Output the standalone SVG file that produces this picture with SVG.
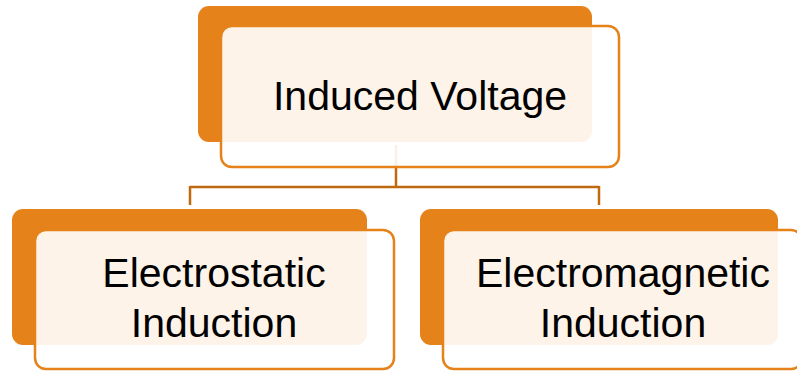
<svg xmlns="http://www.w3.org/2000/svg" width="797" height="371" viewBox="0 0 797 371">
<style>
.back{fill:#E5821A}
.front{fill:#FFFFFF;fill-opacity:0.9;stroke:#E5821A;stroke-width:2.5}
.lbl{font-family:"Liberation Sans",Arial,sans-serif;font-size:41px;fill:#000;text-anchor:middle}
.conn{fill:none;stroke:#C0690F;stroke-width:2.5}
</style>
<rect width="797" height="371" fill="#FFFFFF"/>
<g id="connectors">
<path class="conn" d="M396,145 V187 M190,187 H599 M190,186 V205 M599,186 V205"/>
</g>
<g id="node-induced-voltage">
<rect class="back" x="198" y="6" width="394" height="136" rx="11"/>
<rect class="front" x="221" y="26" width="398" height="141" rx="11"/>
<text class="lbl" x="420" y="110">Induced Voltage</text>
</g>
<g id="node-electrostatic">
<rect class="back" x="12" y="209" width="355" height="136" rx="11"/>
<rect class="front" x="35" y="230" width="359" height="139" rx="11"/>
<text class="lbl" x="214" y="287">Electrostatic</text>
<text class="lbl" x="214" y="337">Induction</text>
</g>
<g id="node-electromagnetic">
<rect class="back" x="420" y="209" width="358" height="136" rx="11"/>
<rect class="front" x="443" y="230" width="359" height="139" rx="11"/>
<text class="lbl" x="623" y="287">Electromagnetic</text>
<text class="lbl" x="623" y="337">Induction</text>
</g>
</svg>
